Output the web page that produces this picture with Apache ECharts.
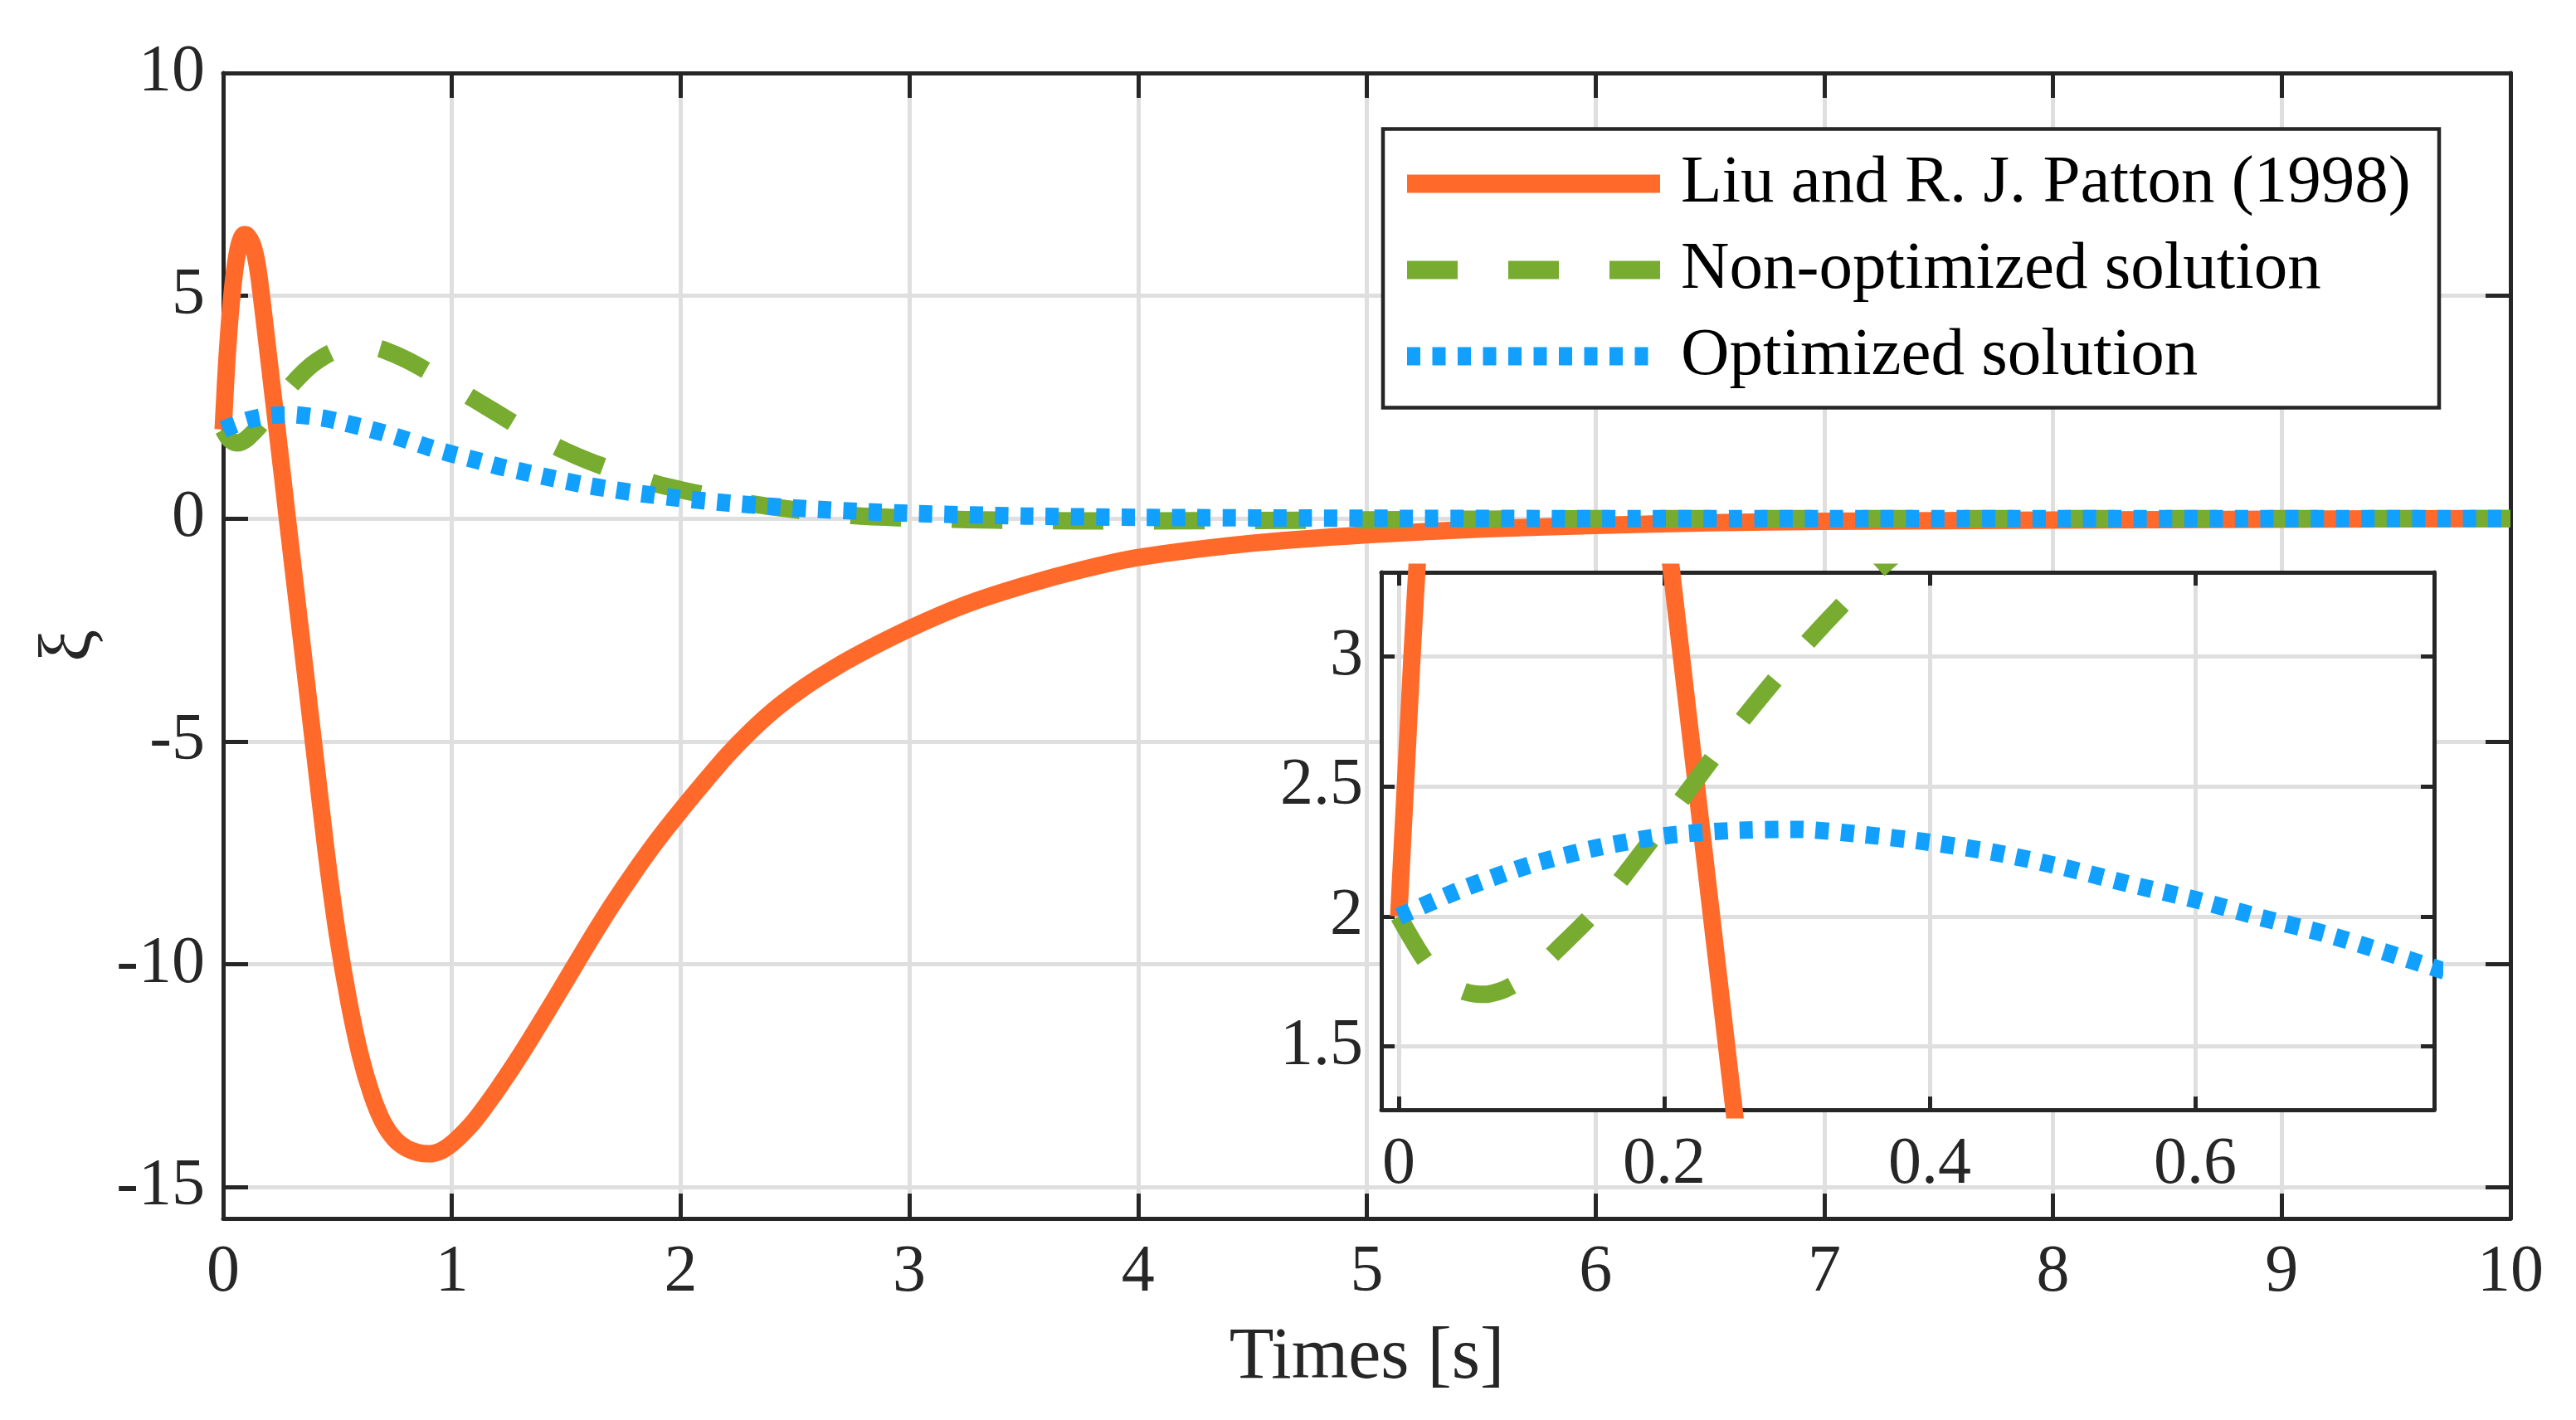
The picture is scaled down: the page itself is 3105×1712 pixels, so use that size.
<!DOCTYPE html>
<html>
<head>
<meta charset="utf-8">
<script src="https://cdn.jsdelivr.net/npm/echarts@6/dist/echarts.min.js"></script>
<style>
  html, body { margin: 0; padding: 0; background: #fff; }
  #chart { width: 3105px; height: 1712px; }
</style>
</head>
<body>
<div id="chart"></div>
<script>
// values
const timeLiu = [0, 0.005, 0.01, 0.015, 0.02, 0.03, 0.04, 0.05, 0.06, 0.07, 0.08, 0.09, 0.1, 0.11, 0.12, 0.13, 0.14, 0.15, 0.16, 0.17, 0.18, 0.19, 0.2, 0.21, 0.22, 0.23, 0.24, 0.25, 0.26, 0.27, 0.28,
  0.3, 0.35, 0.4, 0.45, 0.5, 0.55, 0.6, 0.65, 0.7, 0.75, 0.8, 0.85, 0.9, 0.95, 1.0, 1.05, 1.1,
  1.2, 1.3, 1.4, 1.5, 1.6, 1.7, 1.8, 1.9, 2.0, 2.1, 2.2, 2.3, 2.4, 2.5, 2.6,
  2.75, 3.0, 3.25, 3.5, 3.75, 4.0, 4.5, 5.0, 5.5, 6.0, 6.5, 7.0, 8.0, 9.0, 10.0];
const liuPatton = [2.0, 2.5, 3.0, 3.45, 3.85, 4.55, 5.1, 5.55, 5.9, 6.15, 6.3, 6.37, 6.37, 6.32, 6.24, 6.12, 5.93, 5.66, 5.3, 4.88, 4.45, 4.01, 3.57, 3.13, 2.69, 2.25, 1.81, 1.37, 0.93, 0.48, 0.03,
  -0.85, -3.05, -5.25, -7.45, -9.35, -10.85, -12.05, -12.93, -13.55, -13.92, -14.12, -14.22, -14.25, -14.19, -14.02, -13.78, -13.5,
  -12.8, -12.03, -11.2, -10.35, -9.49, -8.67, -7.91, -7.2, -6.55, -5.93, -5.33, -4.8, -4.33, -3.93, -3.58,
  -3.12, -2.47, -1.92, -1.5, -1.15, -0.87, -0.55, -0.36, -0.23, -0.15, -0.09, -0.06, -0.03, -0.01, 0];

const timeNonOpt = [0, 0.02, 0.035, 0.05, 0.065, 0.08, 0.1, 0.12, 0.15,
  0.2, 0.25, 0.3, 0.35, 0.4, 0.47, 0.55, 0.6, 0.65, 0.7,
  0.8, 0.9, 1.0, 1.1, 1.2, 1.3, 1.4, 1.5, 1.6, 1.7, 1.8, 1.9, 2.0, 2.1,
  2.3, 2.5, 2.75, 3.0, 3.25, 3.5, 3.75, 4.0, 4.5, 5.0, 5.5, 6.0, 7.0, 8.0, 9.0, 10.0];
const nonOptimized = [2.0, 1.83, 1.75, 1.71, 1.70, 1.72, 1.78, 1.875, 2.03,
  2.36, 2.70, 3.01, 3.28, 3.50, 3.72, 3.85, 3.88, 3.86, 3.79,
  3.57, 3.29, 2.98, 2.67, 2.36, 2.05, 1.76, 1.51, 1.29, 1.10, 0.93, 0.77, 0.65, 0.54,
  0.34, 0.2, 0.07, 0.01, -0.02, -0.04, -0.05, -0.05, -0.04, -0.025, -0.01, 0, 0, 0, 0, 0];

const timeOpt = [0, 0.05, 0.1, 0.15, 0.2, 0.25, 0.3, 0.35, 0.4, 0.45, 0.5, 0.55, 0.6, 0.65, 0.7,
  0.8, 0.9, 1.0, 1.1, 1.2, 1.3, 1.4, 1.5, 1.6, 1.7, 1.8,
  2.0, 2.2, 2.4, 2.6, 2.8, 3.0, 3.5, 4.0, 5.0, 6.0, 7.0, 8.0, 9.0, 10.0];
const optimized = [2.0, 2.11, 2.2, 2.265, 2.31, 2.33, 2.335, 2.315, 2.285, 2.245, 2.19, 2.125, 2.065, 1.995, 1.93,
  1.77, 1.60, 1.45, 1.32, 1.18, 1.065, 0.95, 0.84, 0.74, 0.655, 0.58,
  0.455, 0.355, 0.275, 0.21, 0.16, 0.12, 0.06, 0.03, 0.01, 0.003, 0, 0, 0, 0];

const seriesNames = ['Liu and R. J. Patton (1998)', 'Non-optimized solution', 'Optimized solution'];
const seriesColors = ['#FF6A2B', '#77AC30', '#12A0FF'];

// axis ranges
const mainX = [0, 10];
const mainY = [-15.7, 10];
const insetX = [-0.0131, 0.78];
const insetY = [1.256, 3.324];

const FONT = 'Liberation Serif';
const AX = '#262626';
const GRID = '#dfdfdf';

function pairs(xs, ys) {
  return xs.map((x, i) => [x, ys[i]]);
}

function axis(opt) {
  const a = {
    type: 'value',
    gridIndex: opt.grid,
    position: opt.pos,
    min: opt.range[0],
    max: opt.range[1],
    z: opt.z,
    axisLine: { show: true, onZero: false, lineStyle: { color: AX, width: 5 } },
    axisTick: { show: true, inside: true, length: opt.tick, lineStyle: { color: AX, width: 5 } },
    axisLabel: {
      show: !!opt.labels, margin: opt.margin || 22, fontFamily: FONT, fontSize: 80,
      color: AX, lineHeight: 80, showMinLabel: opt.showMin, showMaxLabel: opt.showMax
    },
    splitLine: {
      show: !!opt.split, showMinLine: false, showMaxLine: false,
      lineStyle: { color: GRID, width: 5 }
    }
  };
  if (opt.interval) a.interval = opt.interval;
  else a.splitNumber = 5;
  return a;
}

const xAxes = [
  Object.assign(axis({ grid: 0, pos: 'bottom', range: mainX, interval: 1, tick: 30, labels: true, split: true, margin: 26, z: 0, showMin: true, showMax: true }), {
    name: 'Times [s]', nameLocation: 'middle', nameGap: 125,
    nameTextStyle: { fontFamily: FONT, fontSize: 88, color: AX, lineHeight: 88 }
  }),
  axis({ grid: 0, pos: 'top', range: mainX, interval: 1, tick: 30, z: 0 }),
  axis({ grid: 1, pos: 'bottom', range: insetX, tick: 16, labels: true, split: true, margin: 27, z: 11, showMin: false, showMax: false }),
  axis({ grid: 1, pos: 'top', range: insetX, tick: 16, z: 11 })
];

const yAxes = [
  Object.assign(axis({ grid: 0, pos: 'left', range: mainY, tick: 30, labels: true, split: true, margin: 22, z: 0, showMin: false, showMax: true }), {
    name: 'ξ', nameLocation: 'middle', nameGap: 130,
    nameTextStyle: { fontFamily: FONT, fontSize: 88, color: AX, lineHeight: 88 }
  }),
  axis({ grid: 0, pos: 'right', range: mainY, tick: 30, z: 0 }),
  axis({ grid: 1, pos: 'left', range: insetY, tick: 16, labels: true, split: true, margin: 22, z: 11, showMin: false, showMax: false }),
  axis({ grid: 1, pos: 'right', range: insetY, tick: 16, z: 11 })
];

const dataSets = [pairs(timeLiu, liuPatton), pairs(timeNonOpt, nonOptimized), pairs(timeOpt, optimized)];
const lineTypes = ['solid', [61, 61], [16, 14.5]];

const series = [];
[0, 1].forEach(function (g) {
  dataSets.forEach(function (d, i) {
    series.push({
      name: seriesNames[i],
      type: 'line',
      xAxisIndex: g * 2,
      yAxisIndex: g * 2,
      data: d,
      showSymbol: false,
      symbol: 'none',
      smooth: 0.25,
      clip: true,
      z: g ? 12 : 2,
      itemStyle: { color: seriesColors[i] },
      lineStyle: { color: seriesColors[i], width: 21, type: lineTypes[i], cap: 'butt', join: 'round' }
    });
  });
});

// legend icons (drawn width 305, box padded to 325 so text sits 25px away)
const legendIcons = [
  'path://M0 0H305V22H0Z M325 22',
  'path://M0 0H61V22H0Z M122 0H183V22H122Z M244 0H305V22H244Z M325 22',
  'path://M0 0h16v22h-16Z M30.5 0h16v22h-16Z M61 0h16v22h-16Z M91.5 0h16v22h-16Z M122 0h16v22h-16Z M152.5 0h16v22h-16Z M183 0h16v22h-16Z M213.5 0h16v22h-16Z M244 0h16v22h-16Z M274.5 0h16v22h-16Z M325 22'
];

const chart = echarts.init(document.getElementById('chart'));
chart.setOption({
  animation: false,
  backgroundColor: '#fff',
  grid: [
    { left: 269, top: 88, width: 2757, height: 1381, show: false },
    { left: 1665, top: 690, width: 1269, height: 648, show: true, backgroundColor: '#fff', borderWidth: 0, z: 10 }
  ],
  xAxis: xAxes,
  yAxis: yAxes,
  graphic: [{
    type: 'rect',
    shape: { x: 1667, y: 155.5, width: 1273, height: 336 },
    style: { fill: '#fff', stroke: AX, lineWidth: 4.5 },
    z: 5
  }],
  legend: {
    orient: 'vertical',
    left: 1696,
    top: 181,
    padding: 0,
    itemWidth: 325,
    itemHeight: 22,
    itemGap: 23,
    selectedMode: false,
    z: 20,
    itemStyle: { borderWidth: 0 },
    textStyle: { fontFamily: FONT, fontSize: 81, color: '#000', lineHeight: 80, padding: 0 },
    data: seriesNames.map((n, i) => ({ name: n, icon: legendIcons[i] }))
  },
  series: series
});
</script>
</body>
</html>
